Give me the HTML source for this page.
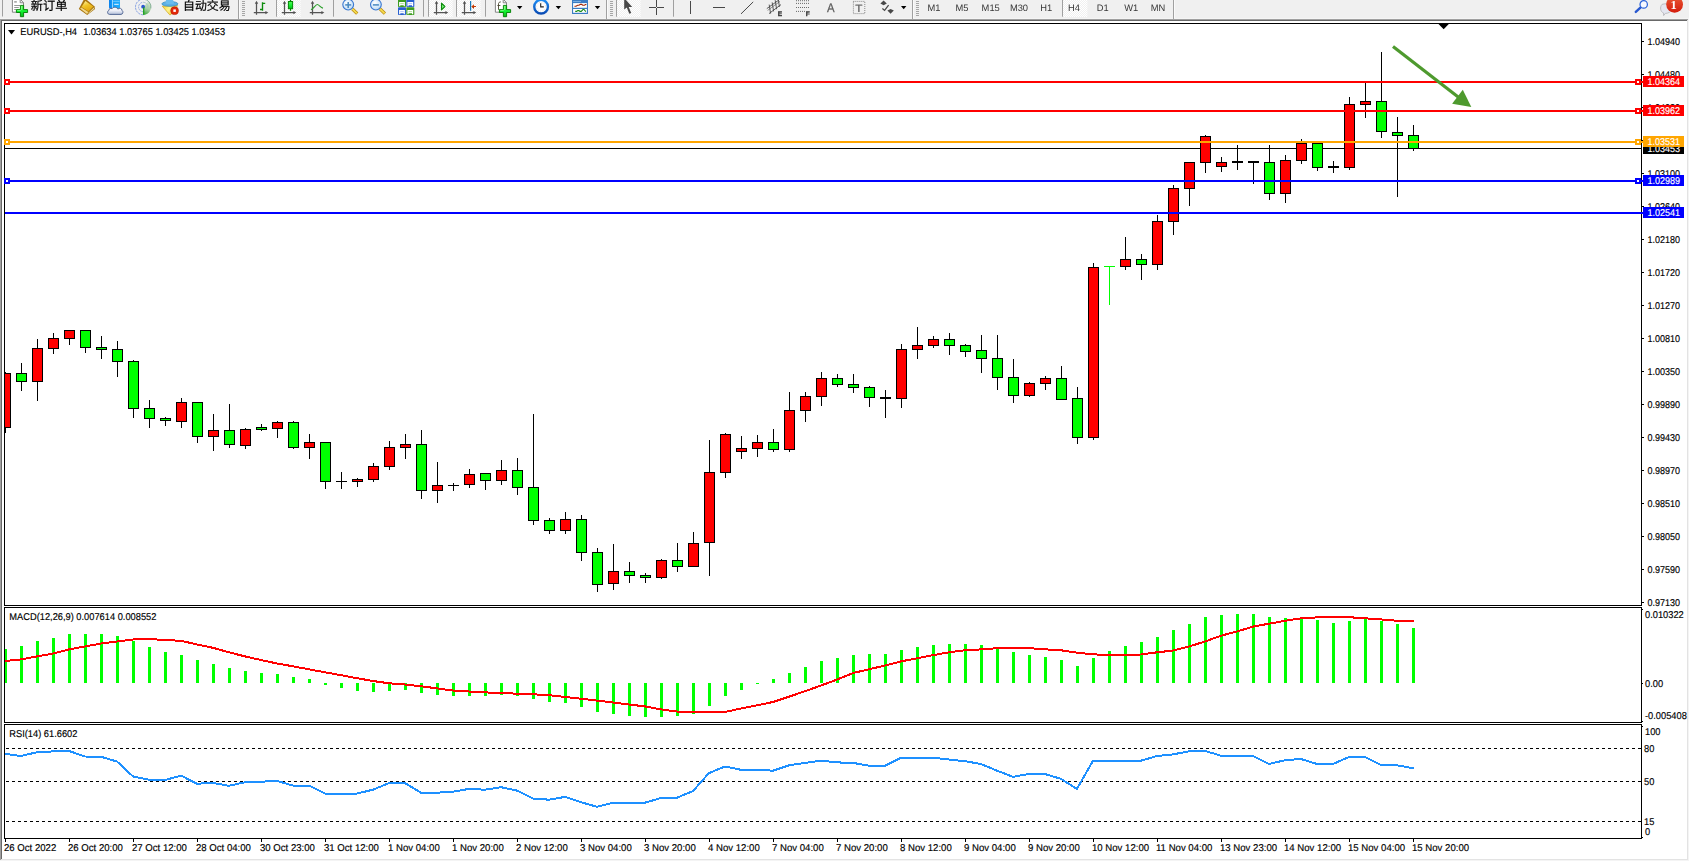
<!DOCTYPE html>
<html lang="zh"><head><meta charset="utf-8"><title>EURUSD-,H4</title>
<style>
html,body{margin:0;padding:0}
body{width:1689px;height:861px;overflow:hidden;background:#f0f0f0;position:relative;font-family:"Liberation Sans","Noto Sans CJK SC",sans-serif}
svg{position:absolute;left:0;top:0;display:block}
.t{font-family:"Liberation Sans","Noto Sans CJK SC",sans-serif;font-size:9.9px;fill:#000;stroke:#000;stroke-width:0.15px;text-rendering:geometricPrecision}
.w{fill:#fff;stroke:#fff}
.c{shape-rendering:crispEdges}
.tb{font-family:"Liberation Sans","Noto Sans CJK SC",sans-serif;text-rendering:geometricPrecision}
</style></head><body>
<svg class="c" width="1689" height="861" viewBox="0 0 1689 861">
<rect x="0" y="18" width="1689" height="1" fill="#f3f3f3"/>
<rect x="0" y="19" width="1689" height="842" fill="#a0a0a0"/>
<rect x="1" y="20" width="1688" height="841" fill="#696969"/>
<rect x="2" y="21" width="1687" height="840" fill="#ffffff"/>
<rect x="1687" y="20" width="1" height="840" fill="#e3e3e3"/>
<rect x="1" y="859" width="1687" height="1" fill="#e3e3e3"/>
<rect x="1688" y="19" width="1" height="842" fill="#f4f4f4"/>
<rect x="0" y="860" width="1689" height="1" fill="#f4f4f4"/>
<rect x="5" y="148" width="1636" height="1" fill="#000"/>
<clipPath id="cp"><rect x="5" y="24" width="1636" height="814"/></clipPath>
<g clip-path="url(#cp)"><rect x="5" y="372" width="1" height="61" fill="#000"/><rect x="0" y="373" width="11" height="55" fill="#000"/><rect x="1" y="374" width="9" height="53" fill="#ff0000"/><rect x="21" y="363" width="1" height="28" fill="#000"/><rect x="16" y="373" width="11" height="9" fill="#000"/><rect x="17" y="374" width="9" height="7" fill="#00ff00"/><rect x="37" y="339" width="1" height="62" fill="#000"/><rect x="32" y="348" width="11" height="34" fill="#000"/><rect x="33" y="349" width="9" height="32" fill="#ff0000"/><rect x="53" y="333" width="1" height="21" fill="#000"/><rect x="48" y="338" width="11" height="11" fill="#000"/><rect x="49" y="339" width="9" height="9" fill="#ff0000"/><rect x="69" y="330" width="1" height="15" fill="#000"/><rect x="64" y="330" width="11" height="9" fill="#000"/><rect x="65" y="331" width="9" height="7" fill="#ff0000"/><rect x="85" y="330" width="1" height="23" fill="#000"/><rect x="80" y="330" width="11" height="18" fill="#000"/><rect x="81" y="331" width="9" height="16" fill="#00ff00"/><rect x="101" y="336" width="1" height="23" fill="#000"/><rect x="96" y="347" width="11" height="3" fill="#000"/><rect x="97" y="348" width="9" height="1" fill="#00ff00"/><rect x="117" y="341" width="1" height="36" fill="#000"/><rect x="112" y="349" width="11" height="13" fill="#000"/><rect x="113" y="350" width="9" height="11" fill="#00ff00"/><rect x="133" y="360" width="1" height="58" fill="#000"/><rect x="128" y="361" width="11" height="48" fill="#000"/><rect x="129" y="362" width="9" height="46" fill="#00ff00"/><rect x="149" y="400" width="1" height="28" fill="#000"/><rect x="144" y="408" width="11" height="11" fill="#000"/><rect x="145" y="409" width="9" height="9" fill="#00ff00"/><rect x="165" y="417" width="1" height="9" fill="#000"/><rect x="160" y="418" width="11" height="3" fill="#000"/><rect x="161" y="419" width="9" height="1" fill="#00ff00"/><rect x="181" y="398" width="1" height="30" fill="#000"/><rect x="176" y="402" width="11" height="20" fill="#000"/><rect x="177" y="403" width="9" height="18" fill="#ff0000"/><rect x="197" y="402" width="1" height="41" fill="#000"/><rect x="192" y="402" width="11" height="35" fill="#000"/><rect x="193" y="403" width="9" height="33" fill="#00ff00"/><rect x="213" y="414" width="1" height="37" fill="#000"/><rect x="208" y="430" width="11" height="7" fill="#000"/><rect x="209" y="431" width="9" height="5" fill="#ff0000"/><rect x="229" y="404" width="1" height="44" fill="#000"/><rect x="224" y="430" width="11" height="15" fill="#000"/><rect x="225" y="431" width="9" height="13" fill="#00ff00"/><rect x="245" y="428" width="1" height="21" fill="#000"/><rect x="240" y="429" width="11" height="17" fill="#000"/><rect x="241" y="430" width="9" height="15" fill="#ff0000"/><rect x="261" y="424" width="1" height="7" fill="#000"/><rect x="256" y="427" width="11" height="3" fill="#000"/><rect x="257" y="428" width="9" height="1" fill="#00ff00"/><rect x="277" y="421" width="1" height="17" fill="#000"/><rect x="272" y="422" width="11" height="7" fill="#000"/><rect x="273" y="423" width="9" height="5" fill="#ff0000"/><rect x="293" y="421" width="1" height="28" fill="#000"/><rect x="288" y="422" width="11" height="26" fill="#000"/><rect x="289" y="423" width="9" height="24" fill="#00ff00"/><rect x="309" y="434" width="1" height="25" fill="#000"/><rect x="304" y="442" width="11" height="6" fill="#000"/><rect x="305" y="443" width="9" height="4" fill="#ff0000"/><rect x="325" y="442" width="1" height="47" fill="#000"/><rect x="320" y="442" width="11" height="40" fill="#000"/><rect x="321" y="443" width="9" height="38" fill="#00ff00"/><rect x="341" y="472" width="1" height="17" fill="#000"/><rect x="336" y="481" width="11" height="1" fill="#000"/><rect x="357" y="478" width="1" height="9" fill="#000"/><rect x="352" y="479" width="11" height="3" fill="#000"/><rect x="353" y="480" width="9" height="1" fill="#ff0000"/><rect x="373" y="463" width="1" height="19" fill="#000"/><rect x="368" y="466" width="11" height="14" fill="#000"/><rect x="369" y="467" width="9" height="12" fill="#ff0000"/><rect x="389" y="441" width="1" height="29" fill="#000"/><rect x="384" y="447" width="11" height="20" fill="#000"/><rect x="385" y="448" width="9" height="18" fill="#ff0000"/><rect x="405" y="434" width="1" height="25" fill="#000"/><rect x="400" y="444" width="11" height="4" fill="#000"/><rect x="401" y="445" width="9" height="2" fill="#ff0000"/><rect x="421" y="430" width="1" height="69" fill="#000"/><rect x="416" y="444" width="11" height="47" fill="#000"/><rect x="417" y="445" width="9" height="45" fill="#00ff00"/><rect x="437" y="462" width="1" height="41" fill="#000"/><rect x="432" y="485" width="11" height="6" fill="#000"/><rect x="433" y="486" width="9" height="4" fill="#ff0000"/><rect x="453" y="483" width="1" height="8" fill="#000"/><rect x="448" y="485" width="11" height="1" fill="#000"/><rect x="469" y="469" width="1" height="19" fill="#000"/><rect x="464" y="474" width="11" height="11" fill="#000"/><rect x="465" y="475" width="9" height="9" fill="#ff0000"/><rect x="485" y="473" width="1" height="17" fill="#000"/><rect x="480" y="473" width="11" height="8" fill="#000"/><rect x="481" y="474" width="9" height="6" fill="#00ff00"/><rect x="501" y="460" width="1" height="25" fill="#000"/><rect x="496" y="470" width="11" height="11" fill="#000"/><rect x="497" y="471" width="9" height="9" fill="#ff0000"/><rect x="517" y="458" width="1" height="37" fill="#000"/><rect x="512" y="470" width="11" height="18" fill="#000"/><rect x="513" y="471" width="9" height="16" fill="#00ff00"/><rect x="533" y="414" width="1" height="111" fill="#000"/><rect x="528" y="487" width="11" height="34" fill="#000"/><rect x="529" y="488" width="9" height="32" fill="#00ff00"/><rect x="549" y="518" width="1" height="16" fill="#000"/><rect x="544" y="520" width="11" height="11" fill="#000"/><rect x="545" y="521" width="9" height="9" fill="#00ff00"/><rect x="565" y="512" width="1" height="22" fill="#000"/><rect x="560" y="519" width="11" height="12" fill="#000"/><rect x="561" y="520" width="9" height="10" fill="#ff0000"/><rect x="581" y="515" width="1" height="46" fill="#000"/><rect x="576" y="519" width="11" height="34" fill="#000"/><rect x="577" y="520" width="9" height="32" fill="#00ff00"/><rect x="597" y="548" width="1" height="44" fill="#000"/><rect x="592" y="552" width="11" height="33" fill="#000"/><rect x="593" y="553" width="9" height="31" fill="#00ff00"/><rect x="613" y="544" width="1" height="46" fill="#000"/><rect x="608" y="571" width="11" height="13" fill="#000"/><rect x="609" y="572" width="9" height="11" fill="#ff0000"/><rect x="629" y="562" width="1" height="21" fill="#000"/><rect x="624" y="571" width="11" height="5" fill="#000"/><rect x="625" y="572" width="9" height="3" fill="#00ff00"/><rect x="645" y="573" width="1" height="10" fill="#000"/><rect x="640" y="575" width="11" height="3" fill="#000"/><rect x="641" y="576" width="9" height="1" fill="#00ff00"/><rect x="661" y="559" width="1" height="20" fill="#000"/><rect x="656" y="560" width="11" height="18" fill="#000"/><rect x="657" y="561" width="9" height="16" fill="#ff0000"/><rect x="677" y="543" width="1" height="29" fill="#000"/><rect x="672" y="560" width="11" height="7" fill="#000"/><rect x="673" y="561" width="9" height="5" fill="#00ff00"/><rect x="693" y="532" width="1" height="35" fill="#000"/><rect x="688" y="543" width="11" height="24" fill="#000"/><rect x="689" y="544" width="9" height="22" fill="#ff0000"/><rect x="709" y="440" width="1" height="136" fill="#000"/><rect x="704" y="472" width="11" height="71" fill="#000"/><rect x="705" y="473" width="9" height="69" fill="#ff0000"/><rect x="725" y="433" width="1" height="45" fill="#000"/><rect x="720" y="434" width="11" height="39" fill="#000"/><rect x="721" y="435" width="9" height="37" fill="#ff0000"/><rect x="741" y="436" width="1" height="23" fill="#000"/><rect x="736" y="448" width="11" height="4" fill="#000"/><rect x="737" y="449" width="9" height="2" fill="#ff0000"/><rect x="757" y="435" width="1" height="22" fill="#000"/><rect x="752" y="442" width="11" height="7" fill="#000"/><rect x="753" y="443" width="9" height="5" fill="#ff0000"/><rect x="773" y="429" width="1" height="23" fill="#000"/><rect x="768" y="442" width="11" height="8" fill="#000"/><rect x="769" y="443" width="9" height="6" fill="#00ff00"/><rect x="789" y="392" width="1" height="60" fill="#000"/><rect x="784" y="410" width="11" height="40" fill="#000"/><rect x="785" y="411" width="9" height="38" fill="#ff0000"/><rect x="805" y="392" width="1" height="30" fill="#000"/><rect x="800" y="396" width="11" height="15" fill="#000"/><rect x="801" y="397" width="9" height="13" fill="#ff0000"/><rect x="821" y="372" width="1" height="34" fill="#000"/><rect x="816" y="378" width="11" height="19" fill="#000"/><rect x="817" y="379" width="9" height="17" fill="#ff0000"/><rect x="837" y="374" width="1" height="13" fill="#000"/><rect x="832" y="378" width="11" height="7" fill="#000"/><rect x="833" y="379" width="9" height="5" fill="#00ff00"/><rect x="853" y="374" width="1" height="19" fill="#000"/><rect x="848" y="384" width="11" height="4" fill="#000"/><rect x="849" y="385" width="9" height="2" fill="#00ff00"/><rect x="869" y="386" width="1" height="21" fill="#000"/><rect x="864" y="387" width="11" height="11" fill="#000"/><rect x="865" y="388" width="9" height="9" fill="#00ff00"/><rect x="885" y="390" width="1" height="28" fill="#000"/><rect x="880" y="397" width="11" height="2" fill="#000"/><rect x="901" y="344" width="1" height="64" fill="#000"/><rect x="896" y="349" width="11" height="50" fill="#000"/><rect x="897" y="350" width="9" height="48" fill="#ff0000"/><rect x="917" y="327" width="1" height="32" fill="#000"/><rect x="912" y="345" width="11" height="5" fill="#000"/><rect x="913" y="346" width="9" height="3" fill="#ff0000"/><rect x="933" y="336" width="1" height="12" fill="#000"/><rect x="928" y="339" width="11" height="7" fill="#000"/><rect x="929" y="340" width="9" height="5" fill="#ff0000"/><rect x="949" y="333" width="1" height="22" fill="#000"/><rect x="944" y="339" width="11" height="7" fill="#000"/><rect x="945" y="340" width="9" height="5" fill="#00ff00"/><rect x="965" y="344" width="1" height="13" fill="#000"/><rect x="960" y="345" width="11" height="7" fill="#000"/><rect x="961" y="346" width="9" height="5" fill="#00ff00"/><rect x="981" y="335" width="1" height="38" fill="#000"/><rect x="976" y="350" width="11" height="9" fill="#000"/><rect x="977" y="351" width="9" height="7" fill="#00ff00"/><rect x="997" y="335" width="1" height="55" fill="#000"/><rect x="992" y="358" width="11" height="20" fill="#000"/><rect x="993" y="359" width="9" height="18" fill="#00ff00"/><rect x="1013" y="359" width="1" height="44" fill="#000"/><rect x="1008" y="377" width="11" height="19" fill="#000"/><rect x="1009" y="378" width="9" height="17" fill="#00ff00"/><rect x="1029" y="382" width="1" height="15" fill="#000"/><rect x="1024" y="383" width="11" height="13" fill="#000"/><rect x="1025" y="384" width="9" height="11" fill="#ff0000"/><rect x="1045" y="376" width="1" height="14" fill="#000"/><rect x="1040" y="378" width="11" height="6" fill="#000"/><rect x="1041" y="379" width="9" height="4" fill="#ff0000"/><rect x="1061" y="366" width="1" height="34" fill="#000"/><rect x="1056" y="378" width="11" height="22" fill="#000"/><rect x="1057" y="379" width="9" height="20" fill="#00ff00"/><rect x="1077" y="387" width="1" height="57" fill="#000"/><rect x="1072" y="398" width="11" height="40" fill="#000"/><rect x="1073" y="399" width="9" height="38" fill="#00ff00"/><rect x="1093" y="263" width="1" height="177" fill="#000"/><rect x="1088" y="267" width="11" height="171" fill="#000"/><rect x="1089" y="268" width="9" height="169" fill="#ff0000"/><rect x="1109" y="266" width="1" height="39" fill="#00ff00"/><rect x="1104" y="266" width="11" height="1" fill="#00ff00"/><rect x="1125" y="237" width="1" height="33" fill="#000"/><rect x="1120" y="259" width="11" height="8" fill="#000"/><rect x="1121" y="260" width="9" height="6" fill="#ff0000"/><rect x="1141" y="254" width="1" height="26" fill="#000"/><rect x="1136" y="259" width="11" height="6" fill="#000"/><rect x="1137" y="260" width="9" height="4" fill="#00ff00"/><rect x="1157" y="215" width="1" height="55" fill="#000"/><rect x="1152" y="221" width="11" height="44" fill="#000"/><rect x="1153" y="222" width="9" height="42" fill="#ff0000"/><rect x="1173" y="185" width="1" height="50" fill="#000"/><rect x="1168" y="188" width="11" height="34" fill="#000"/><rect x="1169" y="189" width="9" height="32" fill="#ff0000"/><rect x="1189" y="162" width="1" height="44" fill="#000"/><rect x="1184" y="162" width="11" height="27" fill="#000"/><rect x="1185" y="163" width="9" height="25" fill="#ff0000"/><rect x="1205" y="135" width="1" height="38" fill="#000"/><rect x="1200" y="136" width="11" height="27" fill="#000"/><rect x="1201" y="137" width="9" height="25" fill="#ff0000"/><rect x="1221" y="157" width="1" height="15" fill="#000"/><rect x="1216" y="162" width="11" height="5" fill="#000"/><rect x="1217" y="163" width="9" height="3" fill="#ff0000"/><rect x="1237" y="145" width="1" height="25" fill="#000"/><rect x="1232" y="161" width="11" height="2" fill="#000"/><rect x="1253" y="161" width="1" height="23" fill="#000"/><rect x="1248" y="161" width="11" height="2" fill="#000"/><rect x="1269" y="145" width="1" height="55" fill="#000"/><rect x="1264" y="162" width="11" height="32" fill="#000"/><rect x="1265" y="163" width="9" height="30" fill="#00ff00"/><rect x="1285" y="155" width="1" height="48" fill="#000"/><rect x="1280" y="160" width="11" height="34" fill="#000"/><rect x="1281" y="161" width="9" height="32" fill="#ff0000"/><rect x="1301" y="139" width="1" height="25" fill="#000"/><rect x="1296" y="143" width="11" height="18" fill="#000"/><rect x="1297" y="144" width="9" height="16" fill="#ff0000"/><rect x="1317" y="143" width="1" height="28" fill="#000"/><rect x="1312" y="143" width="11" height="25" fill="#000"/><rect x="1313" y="144" width="9" height="23" fill="#00ff00"/><rect x="1333" y="161" width="1" height="12" fill="#000"/><rect x="1328" y="166" width="11" height="2" fill="#000"/><rect x="1349" y="97" width="1" height="73" fill="#000"/><rect x="1344" y="104" width="11" height="64" fill="#000"/><rect x="1345" y="105" width="9" height="62" fill="#ff0000"/><rect x="1365" y="83" width="1" height="35" fill="#000"/><rect x="1360" y="101" width="11" height="4" fill="#000"/><rect x="1361" y="102" width="9" height="2" fill="#ff0000"/><rect x="1381" y="52" width="1" height="86" fill="#000"/><rect x="1376" y="101" width="11" height="31" fill="#000"/><rect x="1377" y="102" width="9" height="29" fill="#00ff00"/><rect x="1397" y="117" width="1" height="80" fill="#000"/><rect x="1392" y="132" width="11" height="4" fill="#000"/><rect x="1393" y="133" width="9" height="2" fill="#00ff00"/><rect x="1413" y="125" width="1" height="26" fill="#000"/><rect x="1408" y="135" width="11" height="14" fill="#000"/><rect x="1409" y="136" width="9" height="12" fill="#00ff00"/></g>
<rect x="5" y="81" width="1638" height="2" fill="#ff0000"/><rect x="4" y="79" width="6" height="6" fill="#ff0000"/><rect x="6" y="81" width="2" height="2" fill="#fff"/><rect x="1635" y="79" width="6" height="6" fill="#ff0000"/><rect x="1637" y="81" width="2" height="2" fill="#fff"/>
<rect x="5" y="110" width="1638" height="2" fill="#ff0000"/><rect x="4" y="108" width="6" height="6" fill="#ff0000"/><rect x="6" y="110" width="2" height="2" fill="#fff"/><rect x="1635" y="108" width="6" height="6" fill="#ff0000"/><rect x="1637" y="110" width="2" height="2" fill="#fff"/>
<rect x="5" y="141" width="1638" height="2" fill="#ffa500"/><rect x="4" y="139" width="6" height="6" fill="#ffa500"/><rect x="6" y="141" width="2" height="2" fill="#fff"/><rect x="1635" y="139" width="6" height="6" fill="#ffa500"/><rect x="1637" y="141" width="2" height="2" fill="#fff"/>
<rect x="5" y="180" width="1638" height="2" fill="#0000ff"/><rect x="4" y="178" width="6" height="6" fill="#0000ff"/><rect x="6" y="180" width="2" height="2" fill="#fff"/><rect x="1635" y="178" width="6" height="6" fill="#0000ff"/><rect x="1637" y="180" width="2" height="2" fill="#fff"/>
<rect x="5" y="212" width="1638" height="2" fill="#0000ff"/>
<path d="M4.5 23.5 H1641.5 V605.5 H4.5 Z" fill="none" stroke="#000" stroke-width="1"/>
<path d="M4.5 607.5 H1641.5 V722.5 H4.5 Z" fill="none" stroke="#000" stroke-width="1"/>
<path d="M4.5 724.5 H1641.5 V838.5 H4.5 Z" fill="none" stroke="#000" stroke-width="1"/>
<rect x="4" y="79" width="6" height="6" fill="#ff0000"/><rect x="6" y="81" width="2" height="2" fill="#fff"/>
<rect x="1641" y="81" width="2" height="2" fill="#ff0000"/>
<rect x="4" y="108" width="6" height="6" fill="#ff0000"/><rect x="6" y="110" width="2" height="2" fill="#fff"/>
<rect x="1641" y="110" width="2" height="2" fill="#ff0000"/>
<rect x="4" y="139" width="6" height="6" fill="#ffa500"/><rect x="6" y="141" width="2" height="2" fill="#fff"/>
<rect x="1641" y="141" width="2" height="2" fill="#ffa500"/>
<rect x="4" y="178" width="6" height="6" fill="#0000ff"/><rect x="6" y="180" width="2" height="2" fill="#fff"/>
<rect x="1641" y="180" width="2" height="2" fill="#0000ff"/>
<rect x="1641" y="212" width="2" height="2" fill="#0000ff"/>
<path d="M1438.5 24 H1448.8 L1443.65 29.3 Z" fill="#000" shape-rendering="auto"/>
<path d="M8 30 H15 L11.5 34.5 Z" fill="#000" shape-rendering="auto"/>
<g fill="#00ff00" clip-path="url(#cp)"><rect x="4" y="649" width="3" height="34"/><rect x="20" y="646" width="3" height="37"/><rect x="36" y="641" width="3" height="42"/><rect x="52" y="638" width="3" height="45"/><rect x="68" y="634" width="3" height="49"/><rect x="84" y="634" width="3" height="49"/><rect x="100" y="634" width="3" height="49"/><rect x="116" y="636" width="3" height="47"/><rect x="132" y="641" width="3" height="42"/><rect x="148" y="647" width="3" height="36"/><rect x="164" y="652" width="3" height="31"/><rect x="180" y="655" width="3" height="28"/><rect x="196" y="660" width="3" height="23"/><rect x="212" y="664" width="3" height="19"/><rect x="228" y="668" width="3" height="15"/><rect x="244" y="671" width="3" height="12"/><rect x="260" y="673" width="3" height="10"/><rect x="276" y="674" width="3" height="9"/><rect x="292" y="677" width="3" height="6"/><rect x="308" y="679" width="3" height="4"/><rect x="772" y="679" width="3" height="4"/><rect x="788" y="673" width="3" height="10"/><rect x="804" y="667" width="3" height="16"/><rect x="820" y="661" width="3" height="22"/><rect x="836" y="658" width="3" height="25"/><rect x="852" y="655" width="3" height="28"/><rect x="868" y="654" width="3" height="29"/><rect x="884" y="654" width="3" height="29"/><rect x="900" y="650" width="3" height="33"/><rect x="916" y="647" width="3" height="36"/><rect x="932" y="645" width="3" height="38"/><rect x="948" y="644" width="3" height="39"/><rect x="964" y="644" width="3" height="39"/><rect x="980" y="645" width="3" height="38"/><rect x="996" y="649" width="3" height="34"/><rect x="1012" y="652" width="3" height="31"/><rect x="1028" y="655" width="3" height="28"/><rect x="1044" y="657" width="3" height="26"/><rect x="1060" y="660" width="3" height="23"/><rect x="1076" y="666" width="3" height="17"/><rect x="1092" y="658" width="3" height="25"/><rect x="1108" y="651" width="3" height="32"/><rect x="1124" y="646" width="3" height="37"/><rect x="1140" y="642" width="3" height="41"/><rect x="1156" y="637" width="3" height="46"/><rect x="1172" y="630" width="3" height="53"/><rect x="1188" y="624" width="3" height="59"/><rect x="1204" y="617" width="3" height="66"/><rect x="1220" y="615" width="3" height="68"/><rect x="1236" y="614" width="3" height="69"/><rect x="1252" y="614" width="3" height="69"/><rect x="1268" y="617" width="3" height="66"/><rect x="1284" y="618" width="3" height="65"/><rect x="1300" y="617" width="3" height="66"/><rect x="1316" y="620" width="3" height="63"/><rect x="1332" y="623" width="3" height="60"/><rect x="1348" y="621" width="3" height="62"/><rect x="1364" y="619" width="3" height="64"/><rect x="1380" y="621" width="3" height="62"/><rect x="1396" y="624" width="3" height="59"/><rect x="1412" y="628" width="3" height="55"/><rect x="324" y="683" width="3" height="2"/><rect x="340" y="683" width="3" height="5"/><rect x="356" y="683" width="3" height="8"/><rect x="372" y="683" width="3" height="9"/><rect x="388" y="683" width="3" height="8"/><rect x="404" y="683" width="3" height="7"/><rect x="420" y="683" width="3" height="10"/><rect x="436" y="683" width="3" height="12"/><rect x="452" y="683" width="3" height="13"/><rect x="468" y="683" width="3" height="13"/><rect x="484" y="683" width="3" height="13"/><rect x="500" y="683" width="3" height="12"/><rect x="516" y="683" width="3" height="13"/><rect x="532" y="683" width="3" height="16"/><rect x="548" y="683" width="3" height="19"/><rect x="564" y="683" width="3" height="20"/><rect x="580" y="683" width="3" height="24"/><rect x="596" y="683" width="3" height="29"/><rect x="612" y="683" width="3" height="31"/><rect x="628" y="683" width="3" height="33"/><rect x="644" y="683" width="3" height="34"/><rect x="660" y="683" width="3" height="34"/><rect x="676" y="683" width="3" height="33"/><rect x="692" y="683" width="3" height="31"/><rect x="708" y="683" width="3" height="23"/><rect x="724" y="683" width="3" height="13"/><rect x="740" y="683" width="3" height="7"/><rect x="756" y="683" width="3" height="1"/></g>
<polyline points="5,661.0 21,659.4 37,656.4 53,653.6 69,649.4 85,646.5 101,643.5 117,641.5 133,639.5 149,639.0 165,640.0 181,640.8 197,644.5 213,647.8 229,652.3 245,656.4 261,660.0 277,663.5 293,666.3 309,669.3 325,672.3 341,675.2 357,678.2 373,681.0 389,683.3 405,684.5 421,686.2 437,688.4 453,690.5 469,691.5 485,692.4 501,693.0 517,693.7 533,694.3 549,695.2 565,697.0 581,698.7 597,700.6 613,702.5 629,704.5 645,706.4 661,709.4 677,711.5 693,712.0 709,712.0 725,712.0 741,708.5 757,705.3 773,702.0 789,696.7 805,691.2 821,685.5 837,679.6 853,673.0 869,669.3 885,665.5 901,661.4 917,658.3 933,655.2 949,652.3 965,650.3 981,649.4 997,648.2 1013,648.1 1029,648.1 1045,649.3 1061,650.3 1077,652.6 1093,654.4 1109,654.8 1125,654.8 1141,654.5 1157,652.3 1173,650.6 1189,646.5 1205,641.5 1221,635.7 1237,631.5 1253,626.6 1269,623.7 1285,620.8 1301,618.3 1317,617.4 1333,617.0 1349,617.2 1365,618.3 1381,619.4 1397,620.8 1413,621.3 1414,621.3" fill="none" stroke="#ff0000" stroke-width="2" stroke-linejoin="round"/>
<path d="M6 748.5 H1641" stroke="#000" stroke-width="1" stroke-dasharray="3 3" fill="none"/>
<path d="M6 781.5 H1641" stroke="#000" stroke-width="1" stroke-dasharray="3 3" fill="none"/>
<path d="M6 821.5 H1641" stroke="#000" stroke-width="1" stroke-dasharray="3 3" fill="none"/>
<polyline points="5,753.8 21,756.0 37,752.2 53,751.4 69,751.0 85,756.5 101,756.8 117,761.5 133,776.4 149,779.7 165,780.0 181,775.6 197,783.7 213,782.9 229,785.8 245,782.2 261,781.7 277,780.9 293,785.6 309,785.6 325,793.5 341,793.5 357,793.5 373,789.7 389,783.1 405,783.1 421,792.7 437,792.7 453,791.7 469,788.9 485,789.7 501,787.2 517,790.6 533,798.5 549,799.7 565,796.9 581,802.2 597,806.8 613,802.7 629,802.7 645,802.7 661,798.0 677,797.7 693,791.0 709,773.1 725,766.5 741,769.8 757,769.8 773,770.7 789,765.3 805,762.9 821,760.7 837,762.4 853,762.9 869,765.7 885,765.7 901,757.7 917,757.7 933,757.7 949,759.5 965,761.2 981,764.0 997,770.7 1013,776.8 1029,774.0 1045,774.0 1061,778.9 1077,788.9 1093,760.7 1109,760.7 1125,760.7 1141,760.7 1157,756.0 1173,754.4 1189,751.3 1205,750.9 1221,755.7 1237,755.7 1253,756.0 1269,764.0 1285,760.2 1301,759.0 1317,764.0 1333,764.0 1349,757.0 1365,757.0 1381,764.9 1397,765.3 1413,768.2 1414,768.2" fill="none" stroke="#1e90ff" stroke-width="2" stroke-linejoin="round"/>
<rect x="1642" y="41" width="2" height="1" fill="#000"/>
<rect x="1642" y="74" width="2" height="1" fill="#000"/>
<rect x="1642" y="107" width="2" height="1" fill="#000"/>
<rect x="1642" y="140" width="2" height="1" fill="#000"/>
<rect x="1642" y="173" width="2" height="1" fill="#000"/>
<rect x="1642" y="206" width="2" height="1" fill="#000"/>
<rect x="1642" y="239" width="2" height="1" fill="#000"/>
<rect x="1642" y="272" width="2" height="1" fill="#000"/>
<rect x="1642" y="305" width="2" height="1" fill="#000"/>
<rect x="1642" y="338" width="2" height="1" fill="#000"/>
<rect x="1642" y="371" width="2" height="1" fill="#000"/>
<rect x="1642" y="404" width="2" height="1" fill="#000"/>
<rect x="1642" y="437" width="2" height="1" fill="#000"/>
<rect x="1642" y="470" width="2" height="1" fill="#000"/>
<rect x="1642" y="503" width="2" height="1" fill="#000"/>
<rect x="1642" y="536" width="2" height="1" fill="#000"/>
<rect x="1642" y="569" width="2" height="1" fill="#000"/>
<rect x="1642" y="602" width="2" height="1" fill="#000"/>
<rect x="1642" y="609" width="1" height="1" fill="#000"/>
<rect x="1642" y="683" width="1" height="1" fill="#000"/>
<rect x="1642" y="721" width="1" height="1" fill="#000"/>
<rect x="1642" y="726" width="1" height="1" fill="#000"/>
<rect x="1642" y="837" width="1" height="1" fill="#000"/>
<rect x="5" y="839" width="1" height="3" fill="#000"/>
<rect x="69" y="839" width="1" height="3" fill="#000"/>
<rect x="133" y="839" width="1" height="3" fill="#000"/>
<rect x="197" y="839" width="1" height="3" fill="#000"/>
<rect x="261" y="839" width="1" height="3" fill="#000"/>
<rect x="325" y="839" width="1" height="3" fill="#000"/>
<rect x="389" y="839" width="1" height="3" fill="#000"/>
<rect x="453" y="839" width="1" height="3" fill="#000"/>
<rect x="517" y="839" width="1" height="3" fill="#000"/>
<rect x="581" y="839" width="1" height="3" fill="#000"/>
<rect x="645" y="839" width="1" height="3" fill="#000"/>
<rect x="709" y="839" width="1" height="3" fill="#000"/>
<rect x="773" y="839" width="1" height="3" fill="#000"/>
<rect x="837" y="839" width="1" height="3" fill="#000"/>
<rect x="901" y="839" width="1" height="3" fill="#000"/>
<rect x="965" y="839" width="1" height="3" fill="#000"/>
<rect x="1029" y="839" width="1" height="3" fill="#000"/>
<rect x="1093" y="839" width="1" height="3" fill="#000"/>
<rect x="1157" y="839" width="1" height="3" fill="#000"/>
<rect x="1221" y="839" width="1" height="3" fill="#000"/>
<rect x="1285" y="839" width="1" height="3" fill="#000"/>
<rect x="1349" y="839" width="1" height="3" fill="#000"/>
<rect x="1413" y="839" width="1" height="3" fill="#000"/>
</svg>
<svg width="1689" height="861" viewBox="0 0 1689 861">
<path d="M1393 46.6 L1458.5 97.2" stroke="#4e9a2e" stroke-width="3.2" fill="none"/>
<path d="M1471.3 107.1 L1462.8 89.7 L1452.1 103.7 Z" fill="#4e9a2e"/>
<text class="t" transform="translate(20.3 35) scale(0.94 1)">EURUSD-,H4&#160; <tspan dx="1">1.03634 1.03765 1.03425 1.03453</tspan></text>
<text class="t" transform="translate(9.3 620) scale(0.94 1)">MACD(12,26,9) 0.007614 0.008552</text>
<text class="t" transform="translate(9.3 737) scale(0.94 1)">RSI(14) 61.6602</text>
<text class="t" transform="translate(1647.5 45) scale(0.912 1)">1.04940</text>
<text class="t" transform="translate(1647.5 78) scale(0.912 1)">1.04480</text>
<text class="t" transform="translate(1647.5 111) scale(0.912 1)">1.04020</text>
<text class="t" transform="translate(1647.5 144) scale(0.912 1)">1.03560</text>
<text class="t" transform="translate(1647.5 177) scale(0.912 1)">1.03100</text>
<text class="t" transform="translate(1647.5 210) scale(0.912 1)">1.02640</text>
<text class="t" transform="translate(1647.5 243) scale(0.912 1)">1.02180</text>
<text class="t" transform="translate(1647.5 276) scale(0.912 1)">1.01720</text>
<text class="t" transform="translate(1647.5 309) scale(0.912 1)">1.01270</text>
<text class="t" transform="translate(1647.5 342) scale(0.912 1)">1.00810</text>
<text class="t" transform="translate(1647.5 375) scale(0.912 1)">1.00350</text>
<text class="t" transform="translate(1647.5 408) scale(0.912 1)">0.99890</text>
<text class="t" transform="translate(1647.5 441) scale(0.912 1)">0.99430</text>
<text class="t" transform="translate(1647.5 474) scale(0.912 1)">0.98970</text>
<text class="t" transform="translate(1647.5 507) scale(0.912 1)">0.98510</text>
<text class="t" transform="translate(1647.5 540) scale(0.912 1)">0.98050</text>
<text class="t" transform="translate(1647.5 573) scale(0.912 1)">0.97590</text>
<text class="t" transform="translate(1647.5 606) scale(0.912 1)">0.97130</text>
<text class="t" transform="translate(1645.0 618) scale(0.94 1)">0.010322</text>
<text class="t" transform="translate(1645.0 687) scale(0.94 1)">0.00</text>
<text class="t" transform="translate(1645.0 719) scale(0.94 1)">-0.005408</text>
<text class="t" transform="translate(1645.0 735) scale(0.94 1)">100</text>
<text class="t" transform="translate(1644.0 752) scale(0.94 1)">80</text>
<text class="t" transform="translate(1644.0 785) scale(0.94 1)">50</text>
<text class="t" transform="translate(1644.0 825) scale(0.94 1)">15</text>
<text class="t" transform="translate(1645.0 835) scale(0.94 1)">0</text>
<rect class="c" x="1643" y="143" width="41" height="11" fill="#000000"/>
<text class="t w" transform="translate(1647.5 152) scale(0.912 1)">1.03453</text>
<rect class="c" x="1643" y="76" width="41" height="11" fill="#ff0000"/>
<text class="t w" transform="translate(1647.5 85) scale(0.912 1)">1.04364</text>
<rect class="c" x="1643" y="105" width="41" height="11" fill="#ff0000"/>
<text class="t w" transform="translate(1647.5 114) scale(0.912 1)">1.03962</text>
<rect class="c" x="1643" y="136" width="41" height="11" fill="#ffa500"/>
<text class="t w" transform="translate(1647.5 145) scale(0.912 1)">1.03531</text>
<rect class="c" x="1643" y="175" width="41" height="11" fill="#0000ff"/>
<text class="t w" transform="translate(1647.5 184) scale(0.912 1)">1.02989</text>
<rect class="c" x="1643" y="207" width="41" height="11" fill="#0000ff"/>
<text class="t w" transform="translate(1647.5 216) scale(0.912 1)">1.02541</text>
<text class="t" transform="translate(4.0 851) scale(0.972 1)">26 Oct 2022</text>
<text class="t" transform="translate(68.0 851) scale(0.972 1)">26 Oct 20:00</text>
<text class="t" transform="translate(132.0 851) scale(0.972 1)">27 Oct 12:00</text>
<text class="t" transform="translate(196.0 851) scale(0.972 1)">28 Oct 04:00</text>
<text class="t" transform="translate(260.0 851) scale(0.972 1)">30 Oct 23:00</text>
<text class="t" transform="translate(324.0 851) scale(0.972 1)">31 Oct 12:00</text>
<text class="t" transform="translate(388.0 851) scale(0.972 1)">1 Nov 04:00</text>
<text class="t" transform="translate(452.0 851) scale(0.972 1)">1 Nov 20:00</text>
<text class="t" transform="translate(516.0 851) scale(0.972 1)">2 Nov 12:00</text>
<text class="t" transform="translate(580.0 851) scale(0.972 1)">3 Nov 04:00</text>
<text class="t" transform="translate(644.0 851) scale(0.972 1)">3 Nov 20:00</text>
<text class="t" transform="translate(708.0 851) scale(0.972 1)">4 Nov 12:00</text>
<text class="t" transform="translate(772.0 851) scale(0.972 1)">7 Nov 04:00</text>
<text class="t" transform="translate(836.0 851) scale(0.972 1)">7 Nov 20:00</text>
<text class="t" transform="translate(900.0 851) scale(0.972 1)">8 Nov 12:00</text>
<text class="t" transform="translate(964.0 851) scale(0.972 1)">9 Nov 04:00</text>
<text class="t" transform="translate(1028.0 851) scale(0.972 1)">9 Nov 20:00</text>
<text class="t" transform="translate(1092.0 851) scale(0.972 1)">10 Nov 12:00</text>
<text class="t" transform="translate(1156.0 851) scale(0.972 1)">11 Nov 04:00</text>
<text class="t" transform="translate(1220.0 851) scale(0.972 1)">13 Nov 23:00</text>
<text class="t" transform="translate(1284.0 851) scale(0.972 1)">14 Nov 12:00</text>
<text class="t" transform="translate(1348.0 851) scale(0.972 1)">15 Nov 04:00</text>
<text class="t" transform="translate(1412.0 851) scale(0.972 1)">15 Nov 20:00</text>
</svg>
<svg width="1689" height="19" viewBox="0 0 1689 19" style="overflow:hidden;will-change:transform"><defs><pattern id="chk" width="2" height="2" patternUnits="userSpaceOnUse"><rect width="2" height="2" fill="#f0f0f0"/><rect width="1" height="1" fill="#fff"/><rect x="1" y="1" width="1" height="1" fill="#fff"/></pattern><linearGradient id="gp" x1="0" y1="0" x2="0" y2="1"><stop offset="0" stop-color="#58f858"/><stop offset="0.55" stop-color="#10f030"/><stop offset="1" stop-color="#08b818"/></linearGradient><linearGradient id="gold" x1="0.2" y1="0" x2="0.6" y2="1"><stop offset="0" stop-color="#fff4a0"/><stop offset="0.45" stop-color="#f0c428"/><stop offset="1" stop-color="#e0a410"/></linearGradient><linearGradient id="blu" x1="0" y1="0" x2="0" y2="1"><stop offset="0" stop-color="#58a8f8"/><stop offset="1" stop-color="#1868d0"/></linearGradient><linearGradient id="red" x1="0" y1="0" x2="0" y2="1"><stop offset="0" stop-color="#ea5a36"/><stop offset="1" stop-color="#d41c0c"/></linearGradient><radialGradient id="lens" cx="0.4" cy="0.35" r="0.7"><stop offset="0" stop-color="#ffffff"/><stop offset="1" stop-color="#b8d8f4"/></radialGradient><linearGradient id="azure" x1="0" y1="0" x2="1" y2="0"><stop offset="0" stop-color="#0a80ec"/><stop offset="0.35" stop-color="#18a0f8"/><stop offset="1" stop-color="#20acfc"/></linearGradient><linearGradient id="cloud" x1="0" y1="0" x2="0" y2="1"><stop offset="0" stop-color="#ffffff"/><stop offset="0.45" stop-color="#eef0f8"/><stop offset="1" stop-color="#b2bed8"/></linearGradient><linearGradient id="sig" x1="0.3" y1="0" x2="0.1" y2="1"><stop offset="0" stop-color="#d4e6cc"/><stop offset="0.5" stop-color="#a8d0a4"/><stop offset="1" stop-color="#38a838"/></linearGradient><linearGradient id="yel" x1="0" y1="0" x2="1" y2="0.4"><stop offset="0" stop-color="#f4d030"/><stop offset="0.5" stop-color="#fff48c"/><stop offset="1" stop-color="#f0c428"/></linearGradient><linearGradient id="blu2" x1="0" y1="0" x2="0" y2="1"><stop offset="0" stop-color="#1c8cf4"/><stop offset="1" stop-color="#0a4cb4"/></linearGradient></defs><rect x="0" y="0" width="1689" height="19" fill="#f0f0f0"/><rect x="0" y="18" width="1689" height="1" fill="#f5f5f5"/><rect x="2" y="0" width="1" height="16.5" fill="#a0a0a0"/><path d="M12.4 -1 H20.2 L23.5 2.8 V12.2 H12.4 Z" fill="#fff" stroke="#787878" stroke-width="0.9"/><path d="M20.2 -1 V2.8 H23.5" fill="none" stroke="#787878" stroke-width="0.9"/><path d="M14.2 1.9 h2.6" stroke="#8c8c8c" stroke-width="1.3"/><path d="M14.2 5.5 h5.8 M14.2 7.5 h4.6 M14.2 9.5 h2" stroke="#8c8c8c" stroke-width="0.9"/><path d="M20.4 5.4 h3.2 v4.2 h4 v2.9 h-4 v4.2 h-3.2 v-4.2 h-4 v-2.9 h4 z" fill="url(#gp)" stroke="#007c00" stroke-width="0.9" stroke-linejoin="miter"/><path d="M21.6 6.2 v3.6 M17.3 10.4 h3.4" stroke="#a0ffa0" stroke-width="1" opacity="0.75" fill="none"/><text class="tb" x="30.8" y="10.2" font-size="12.2" fill="#000" stroke="#000" stroke-width="0.2">新订单</text><path d="M84.1 -1 L85.8 -1 L94.3 6.3 L95.1 8.9 L87.2 15 L78.8 8.9 Z" fill="#a8740e"/><path d="M85.4 0.9 L93.3 6.6 L88.5 11.5 L81.5 7 Z" fill="url(#gold)"/><path d="M80.1 8.6 L81.3 7.5 L88.3 12 L87.1 13.9 Z" fill="#f2d88a"/><path d="M89 12.2 L93.8 7.4 L94.3 8.7 L87.9 14 Z" fill="#e6d9a0"/><rect x="109" y="-2" width="11" height="10.4" rx="0.8" fill="url(#azure)"/><path d="M112.5 -1 V8" stroke="#e8f6ff" stroke-width="0.7" opacity="0.9"/><path d="M114.2 4.3 H118.7" stroke="#ffffff" stroke-width="0.9"/><path d="M113.2 1.3 H119.6" stroke="#8cd4ff" stroke-width="0.8"/><path d="M109.6 14.4 C107.4 14.4 106.8 11.2 108.9 10.4 C108.8 8.6 110.6 7.9 112 8.7 C113 6.7 116.8 6.6 117.9 9.1 C119.2 7.6 122 8.2 122 10.4 C123.6 11.2 123 14.4 121 14.4 Z" fill="url(#cloud)" stroke="#465c8c" stroke-width="0.9"/><path d="M143.3 7 L143.3 14.9 A7.9 7.9 0 0 0 148.6 1.2 Z" fill="url(#sig)"/><path d="M143.3 14.8 A7.8 7.8 0 0 1 143.3 -0.8" fill="none" stroke="#5078d8" stroke-width="1" opacity="0.7" stroke-dasharray="2.2 0.9"/><path d="M143.3 -0.8 A7.8 7.8 0 0 1 150.9 8.4" fill="none" stroke="#6c9c88" stroke-width="1" opacity="0.7"/><path d="M143.3 11.7 A4.7 4.7 0 0 1 143.3 2.3" fill="none" stroke="#6c8cdc" stroke-width="1" opacity="0.7" stroke-dasharray="2 0.8"/><path d="M143.3 2.3 A4.7 4.7 0 0 1 147.9 7.6" fill="none" stroke="#a4c4c0" stroke-width="1" opacity="0.8"/><circle cx="143.1" cy="6.7" r="1.9" fill="#2c58d0"/><path d="M143.7 7.2 V14.7" stroke="#18a018" stroke-width="1.2"/><path d="M162.3 6.2 L177.6 5.6 L170.8 14.7 L169.6 14.7 Z" fill="url(#yel)" stroke="#d0a418" stroke-width="0.7"/><ellipse cx="169.9" cy="3.9" rx="8" ry="2.4" fill="#5cb0e6" stroke="#2c88bc" stroke-width="0.7"/><path d="M166.4 -2 H172.4 L174.2 3.2 C172.6 4.4 167.4 4.4 165.4 3.2 Z" fill="#6cbcec"/><circle cx="174.6" cy="10.7" r="3.9" fill="#e42808" stroke="#b41c08" stroke-width="0.6"/><rect x="173.35" y="9.4" width="2.5" height="2.5" fill="#fff"/><text class="tb" x="183.0" y="10.2" font-size="11.9" fill="#000" stroke="#000" stroke-width="0.2">自动交易</text><rect x="238" y="0" width="1" height="19" fill="#a0a0a0"/><rect x="239" y="0" width="1" height="18" fill="#fafafa"/><rect x="242" y="1" width="3" height="1" fill="#a6a6a6"/><rect x="242" y="3" width="3" height="1" fill="#a6a6a6"/><rect x="242" y="5" width="3" height="1" fill="#a6a6a6"/><rect x="242" y="7" width="3" height="1" fill="#a6a6a6"/><rect x="242" y="9" width="3" height="1" fill="#a6a6a6"/><rect x="242" y="11" width="3" height="1" fill="#a6a6a6"/><rect x="242" y="13" width="3" height="1" fill="#a6a6a6"/><rect x="242" y="15" width="3" height="1" fill="#a6a6a6"/><path d="M256.5 2 V14.7 M253.8 12.6 H266.5" stroke="#545454" stroke-width="1.25" fill="none"/><path d="M254.8 3.7 L256.5 0.8 L258.2 3.7 Z" fill="#545454"/><path d="M265.4 10.9 L268.3 12.6 L265.4 14.3 Z" fill="#545454"/><path d="M262.5 2.2 V10.8 M262.5 3.4 H265.2 M260 9.5 H262.5" stroke="#0c8c0c" stroke-width="1.35" fill="none"/><rect x="276" y="0" width="1" height="16.7" fill="#a0a0a0"/><rect x="277" y="0" width="23.6" height="17" fill="url(#chk)"/><path d="M284.5 2 V14.7 M281.8 12.6 H294.5" stroke="#545454" stroke-width="1.25" fill="none"/><path d="M282.8 3.7 L284.5 0.8 L286.2 3.7 Z" fill="#545454"/><path d="M293.4 10.9 L296.3 12.6 L293.4 14.3 Z" fill="#545454"/><path d="M290.5 -1 V10.8" stroke="#068806" stroke-width="1.2"/><rect x="288.4" y="1.5" width="4.2" height="7.2" fill="url(#gp)" stroke="#068806" stroke-width="1"/><path d="M312.5 2 V14.7 M309.8 12.6 H322.5" stroke="#545454" stroke-width="1.25" fill="none"/><path d="M310.8 3.7 L312.5 0.8 L314.2 3.7 Z" fill="#545454"/><path d="M321.4 10.9 L324.3 12.6 L321.4 14.3 Z" fill="#545454"/><path d="M311 9.8 C313.6 8.8 315.4 4.5 317.3 4.5 C319 4.5 320.6 7.8 323 8.2" stroke="#2ca02c" stroke-width="1.2" fill="none"/><rect x="333" y="0" width="1" height="16.7" fill="#a0a0a0"/><path d="M352.3 8.8 L357.2 13.7" stroke="#b8880c" stroke-width="3.2" stroke-linecap="butt"/><path d="M352.3 8.8 L356.9 13.4" stroke="#f6dc50" stroke-width="1.8" stroke-linecap="butt"/><circle cx="348.2" cy="4.6" r="5.4" fill="url(#lens)" stroke="#3a78d0" stroke-width="1.1"/><path d="M345.2 4.9 h6" stroke="#4888c0" stroke-width="1.5"/><path d="M348.2 1.9 v6" stroke="#4888c0" stroke-width="1.5"/><path d="M380.0 8.8 L384.9 13.7" stroke="#b8880c" stroke-width="3.2" stroke-linecap="butt"/><path d="M380.0 8.8 L384.59999999999997 13.4" stroke="#f6dc50" stroke-width="1.8" stroke-linecap="butt"/><circle cx="375.9" cy="4.6" r="5.4" fill="url(#lens)" stroke="#3a78d0" stroke-width="1.1"/><path d="M372.9 4.9 h6" stroke="#4888c0" stroke-width="1.5"/><rect x="398" y="-1" width="8" height="8" rx="0.8" fill="#3c9c20"/><rect x="406.3" y="-1" width="8" height="8" rx="0.8" fill="#2860d0"/><rect x="398" y="7.3" width="8" height="7.7" rx="0.8" fill="#2860d0"/><rect x="406.3" y="7.3" width="8" height="7.7" rx="0.8" fill="#3c9c20"/><path d="M399.1 2.1 h5.8 v4.2 h-1.2 v-1 h-3.4 v1 h-1.2 z" fill="#fff"/><rect x="400.20000000000005" y="3.2" width="3.6" height="0.9" fill="#a8dc90"/><path d="M407.4 2.1 h5.8 v4.2 h-1.2 v-1 h-3.4 v1 h-1.2 z" fill="#fff"/><rect x="408.5" y="3.2" width="3.6" height="0.9" fill="#a8bcf8"/><path d="M399.1 10.1 h5.8 v4.2 h-1.2 v-1 h-3.4 v1 h-1.2 z" fill="#fff"/><rect x="400.20000000000005" y="11.2" width="3.6" height="0.9" fill="#a8bcf8"/><path d="M407.4 10.1 h5.8 v4.2 h-1.2 v-1 h-3.4 v1 h-1.2 z" fill="#fff"/><rect x="408.5" y="11.2" width="3.6" height="0.9" fill="#a8dc90"/><rect x="423" y="0" width="1" height="16.7" fill="#a0a0a0"/><rect x="428" y="0" width="1" height="16.7" fill="#a0a0a0"/><rect x="429" y="0" width="23.6" height="17" fill="url(#chk)"/><path d="M436.5 2 V14.7 M433.8 12.6 H446.5" stroke="#545454" stroke-width="1.25" fill="none"/><path d="M434.8 3.7 L436.5 0.8 L438.2 3.7 Z" fill="#545454"/><path d="M445.4 10.9 L448.3 12.6 L445.4 14.3 Z" fill="#545454"/><path d="M441.5 3.1 V9.9 L444.9 6.5 Z" fill="#78f078" stroke="#0a8a0a" stroke-width="1.1" stroke-linejoin="round"/><rect x="456" y="0" width="1" height="16.7" fill="#a0a0a0"/><rect x="457" y="0" width="23.6" height="17" fill="url(#chk)"/><path d="M464.5 2 V14.7 M461.8 12.6 H474.5" stroke="#545454" stroke-width="1.25" fill="none"/><path d="M462.8 3.7 L464.5 0.8 L466.2 3.7 Z" fill="#545454"/><path d="M473.4 10.9 L476.3 12.6 L473.4 14.3 Z" fill="#545454"/><path d="M470.6 1 V10.8" stroke="#1878b8" stroke-width="1.2"/><path d="M471.4 6.5 L474 4.2 V5.9 H476 V7.1 H474 V8.8 Z" fill="#d84808"/><path d="M471.4 6.5 L474 8.8 V7.1 H476 V6.5 Z" fill="#b03004"/><rect x="485" y="0" width="1" height="16.7" fill="#a0a0a0"/><path d="M495.4 -1 H503.2 L506.5 2.8 V12.2 H495.4 Z" fill="#fff" stroke="#787878" stroke-width="0.9"/><path d="M503.2 -1 V2.8 H506.5" fill="none" stroke="#787878" stroke-width="0.9"/><path d="M500.8 1.9 C499.4 2 498.5 2.6 498.5 3.6 V9.8 M497.4 5.5 h3" stroke="#4a4630" stroke-width="0.9" fill="none"/><path d="M503.4 5.4 h3.2 v4.2 h4 v2.9 h-4 v4.2 h-3.2 v-4.2 h-4 v-2.9 h4 z" fill="url(#gp)" stroke="#007c00" stroke-width="0.9" stroke-linejoin="miter"/><path d="M504.6 6.2 v3.6 M500.3 10.4 h3.4" stroke="#a0ffa0" stroke-width="1" opacity="0.75" fill="none"/><path d="M517 6 H522.4 L519.7 9.2 Z" fill="#000"/><circle cx="541.1" cy="6.7" r="6.85" fill="#fcfcfc" stroke="url(#blu2)" stroke-width="2.4"/><circle cx="541.1" cy="6.7" r="4.5" fill="none" stroke="#b4b4b4" stroke-width="0.7" stroke-dasharray="0.5 1.86"/><path d="M540.7 3.2 V6.9 H543.8" stroke="#202020" stroke-width="1.1" fill="none"/><path d="M555.7 6 H561.1 L558.4000000000001 9.2 Z" fill="#000"/><rect x="572" y="-1" width="16" height="15" rx="0.6" fill="#3a7cc4"/><rect x="573" y="1.1" width="8" height="0.7" fill="#a8d4f8" opacity="0.8"/><rect x="573.1" y="3.1" width="13.8" height="4.7" fill="#fff"/><rect x="573.1" y="9" width="13.8" height="3.8" fill="#fff"/><path d="M574.4 6.3 H576 L577.6 5.3 H579 L580.4 4.4 H581.6 L582.8 5.3 H584.4 L585.6 4.5 H586.4" stroke="#a02808" stroke-width="1.1" fill="none"/><path d="M575.2 11.4 H576.6 L577.8 10.6 H579 L580 11.4 H581.2 L583 9.5 H584 L585.8 11.6" stroke="#188c18" stroke-width="1.1" fill="none"/><path d="M594.8 6 H600.1999999999999 L597.5 9.2 Z" fill="#000"/><rect x="606" y="0" width="1" height="19" fill="#a0a0a0"/><rect x="607" y="0" width="1" height="18" fill="#fafafa"/><rect x="610" y="1" width="3" height="1" fill="#a6a6a6"/><rect x="610" y="3" width="3" height="1" fill="#a6a6a6"/><rect x="610" y="5" width="3" height="1" fill="#a6a6a6"/><rect x="610" y="7" width="3" height="1" fill="#a6a6a6"/><rect x="610" y="9" width="3" height="1" fill="#a6a6a6"/><rect x="610" y="11" width="3" height="1" fill="#a6a6a6"/><rect x="610" y="13" width="3" height="1" fill="#a6a6a6"/><rect x="610" y="15" width="3" height="1" fill="#a6a6a6"/><rect x="616" y="0" width="1" height="16.7" fill="#a0a0a0"/><rect x="617" y="0" width="23.6" height="17" fill="url(#chk)"/><path d="M624.2 -2 V9.6 L626.8 7.4 L629.3 13.8 L631.2 13 L628.7 6.9 L632.2 6.9 Z" fill="#484848"/><path d="M649 7.5 H664 M656.5 0 V15" stroke="#484848" stroke-width="1" fill="none"/><rect x="656" y="7" width="1" height="1" fill="#f0f0f0"/><rect x="673" y="0" width="1" height="16.7" fill="#a0a0a0"/><path d="M690.5 1 V14" stroke="#484848" stroke-width="1"/><path d="M713 7.5 H725" stroke="#484848" stroke-width="1"/><path d="M741 13.9 L753.2 1.9" stroke="#484848" stroke-width="1"/><path d="M766.8 8.6 L778.6 0.2 M769 13.6 L781 4.6" stroke="#484848" stroke-width="0.9" fill="none"/><path d="M769.2 4.6 L770.6 13.6 M772.2 2.4 L773.6 11.4 M775.2 0.2 L776.6 9.2 M778.2 -1.6 L779.4 6.8" stroke="#484848" stroke-width="0.9" fill="none"/><path d="M767.6 10.4 L780 1.4" stroke="#484848" stroke-width="0.7" fill="none" opacity="0.8"/><text class="tb" x="777.7" y="15.6" font-size="6.5" font-weight="bold" fill="#383838" stroke="#383838" stroke-width="0.35">E</text><path d="M796 0.7 h13.2" stroke="#484848" stroke-width="0.9" stroke-dasharray="0.9 1.1"/><path d="M796 3.4 h13.2" stroke="#484848" stroke-width="0.9" stroke-dasharray="0.9 1.1"/><path d="M796 7.5 h13.2" stroke="#484848" stroke-width="0.9" stroke-dasharray="0.9 1.1"/><path d="M796 11.4 h9" stroke="#484848" stroke-width="0.9" stroke-dasharray="0.9 1.1"/><text class="tb" x="805.8" y="15.6" font-size="6.5" font-weight="bold" fill="#383838" stroke="#383838" stroke-width="0.35">F</text><text class="tb" transform="translate(826.9 11.7) scale(0.92 1)" font-size="12.4" fill="#5c5c5c" stroke="#5c5c5c" stroke-width="0.25">A</text><rect x="853.4" y="1.4" width="11.4" height="12.2" fill="none" stroke="#606060" stroke-width="0.8" stroke-dasharray="0.9 1.1"/><text class="tb" transform="translate(855.3 11.7) scale(1.12 1)" font-size="10.5" fill="#5c5c5c" stroke="#5c5c5c" stroke-width="0.2">T</text><path d="M880.4 3.6 L883.6 0.6 L886.8 3.6 L883.6 5.2 Z" fill="#484848"/><path d="M887.4 10.6 L890.6 13.8 L893.8 10.6 L890.6 9 Z" fill="#484848"/><path d="M882.4 8.4 L884.6 10.4 L888.6 5.2" stroke="#484848" stroke-width="1.3" fill="none"/><path d="M901 6 H906.4 L903.7 9.2 Z" fill="#000"/><rect x="912" y="0" width="1" height="19" fill="#a0a0a0"/><rect x="913" y="0" width="1" height="18" fill="#fafafa"/><rect x="916" y="1" width="3" height="1" fill="#a6a6a6"/><rect x="916" y="3" width="3" height="1" fill="#a6a6a6"/><rect x="916" y="5" width="3" height="1" fill="#a6a6a6"/><rect x="916" y="7" width="3" height="1" fill="#a6a6a6"/><rect x="916" y="9" width="3" height="1" fill="#a6a6a6"/><rect x="916" y="11" width="3" height="1" fill="#a6a6a6"/><rect x="916" y="13" width="3" height="1" fill="#a6a6a6"/><rect x="916" y="15" width="3" height="1" fill="#a6a6a6"/><rect x="1062" y="0" width="1" height="16.7" fill="#a0a0a0"/><rect x="1063" y="0" width="24.4" height="17" fill="url(#chk)"/><text class="tb" x="927.5" y="11" font-size="9.35" fill="#383838">M1</text><text class="tb" x="955.4" y="11" font-size="9.35" fill="#383838">M5</text><text class="tb" x="981.6" y="11" font-size="9.35" fill="#383838">M15</text><text class="tb" x="1009.9" y="11" font-size="9.35" fill="#383838">M30</text><text class="tb" x="1040.3" y="11" font-size="9.35" fill="#383838">H1</text><text class="tb" x="1067.9" y="11" font-size="9.35" fill="#383838">H4</text><text class="tb" x="1096.7" y="11" font-size="9.35" fill="#383838">D1</text><text class="tb" x="1124.3" y="11" font-size="9.35" fill="#383838">W1</text><text class="tb" x="1150.7" y="11" font-size="9.35" fill="#383838">MN</text><rect x="1173" y="0" width="1" height="19" fill="#a0a0a0"/><rect x="1174" y="0" width="1" height="18" fill="#fafafa"/><path d="M1640.4 7.7 L1635.8 11.9" stroke="#2858d0" stroke-width="2.4" stroke-linecap="round"/><circle cx="1643.7" cy="4.4" r="3.7" fill="#f6f8ff" stroke="#2860d8" stroke-width="1.2"/><path d="M1662 4.4 C1668 2.6 1672.4 5 1672 8.6 C1671.6 12 1668 13.4 1665.4 13.4 L1663.6 15.6 L1663.6 13 C1660.4 12 1659.6 7 1662 4.4 Z" fill="#e4e6f0" stroke="#b8b8bc" stroke-width="0.9"/><circle cx="1674.6" cy="4.4" r="8.4" fill="url(#red)"/><text x="1670.4" y="8.9" font-family="'Liberation Serif',serif" font-weight="bold" font-size="12.5" fill="#fff">1</text></svg>
</body></html>
